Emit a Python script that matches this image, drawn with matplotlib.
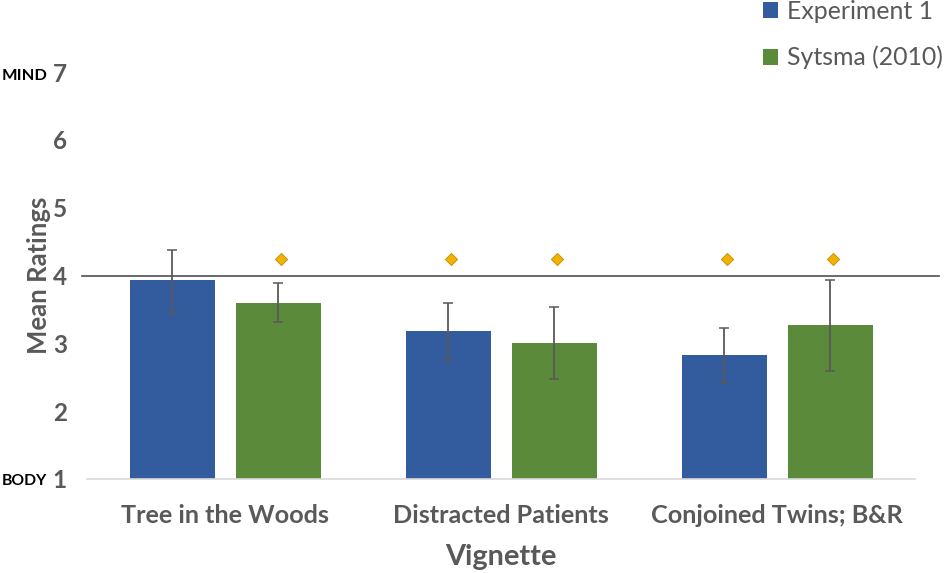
# -*- coding: utf-8 -*-
"""
Mean ratings per vignette, Experiment 1 against Sytsma (2010).
"""

import numpy as np
import matplotlib.pyplot as plt


def build_data():
    data = {
        "vignettes": ["Tree in the Woods", "Distracted Patients", "Conjoined Twins; B&R"],
        "exp_mean": [3.94, 3.18, 2.83],
        "exp_low": [3.44, 2.74, 2.41],
        "exp_high": [4.38, 3.59, 3.23],
        "sys_mean": [3.60, 3.01, 3.27],
        "sys_low": [3.31, 2.47, 2.59],
        "sys_high": [3.89, 3.54, 3.94],
    }
    return data


def visualize(data, save_path):
    """Grouped bars with error bars, reference line and markers."""
    plt.rcParams["font.family"] = ["Lato", "DejaVu Sans"]

    fig = plt.figure(figsize=(9.45, 5.73), dpi=100)
    ax = fig.add_axes([87 / 945, 94 / 573, 828 / 945, 407 / 573])

    x = np.arange(len(data["vignettes"]))
    width = 0.308
    offset = 0.192
    grey = "#595959"

    # bars
    ax.bar(x - offset, np.array(data["exp_mean"]) - 1, width, bottom=1,
           color="#335C9F", label="Experiment 1")
    ax.bar(x + offset + 0.003, np.array(data["sys_mean"]) - 1, width, bottom=1,
           color="#5A8A3A", label="Sytsma (2010)")

    # error bars
    for pos, mean, low, high in [
        (x - offset, data["exp_mean"], data["exp_low"], data["exp_high"]),
        (x + offset, data["sys_mean"], data["sys_low"], data["sys_high"]),
    ]:
        mean = np.array(mean)
        yerr = [mean - np.array(low), np.array(high) - mean]
        ax.errorbar(pos, mean, yerr=yerr, fmt="none", ecolor=grey,
                    elinewidth=1.3, capsize=3.5, capthick=1.1, zorder=4)

    # midpoint line runs past the plot area
    ax.plot([-0.518, 2.587], [4, 4], color="#505050", linewidth=1.2,
            clip_on=False, zorder=3)

    # significance markers
    marker_x = [0 + offset, 1 - offset, 1 + offset, 2 - offset, 2 + offset]
    ax.scatter(np.array(marker_x) + 0.01, [4.25] * 5, marker="D", s=38,
               color="#F0B400", edgecolors="#C98F10", linewidth=0.7, zorder=5)

    ax.set_xlim(-0.5, 2.5)
    ax.set_ylim(1, 7)
    ax.set_yticks(range(1, 8))
    ax.set_xticks(x)
    ax.set_xticklabels(data["vignettes"], fontsize=18.2, fontweight="bold", color=grey)
    ax.tick_params(axis="y", length=0, labelsize=17.5, labelcolor=grey, pad=14.5)
    ax.tick_params(axis="x", length=0, pad=18)
    for label in ax.get_yticklabels():
        label.set_fontweight("bold")

    for side in ["top", "right", "left"]:
        ax.spines[side].set_visible(False)
    ax.spines["bottom"].set_color("#D9D9D9")
    ax.spines["bottom"].set_linewidth(1.2)

    ax.set_xlabel("Vignette", fontsize=20.8, fontweight="bold", color=grey, labelpad=12)
    ax.set_ylabel("Mean Ratings", fontsize=18.5, fontweight="bold", color=grey, labelpad=1.5)

    # scale anchors
    fig.text(2 / 945, 1 - 76 / 573, "MIND", fontsize=11.8, fontweight="bold",
             color="black", va="center")
    fig.text(2 / 945, 1 - 481 / 573, "BODY", fontsize=11.3, fontweight="bold",
             color="black", va="center")

    ax.legend(loc="upper left", bbox_to_anchor=(763 / 945, 1.0), bbox_transform=fig.transFigure,
              frameon=False, fontsize=17.9, labelcolor=grey, handlelength=0.62,
              handleheight=0.62, handletextpad=0.36, labelspacing=0.92,
              borderaxespad=0, borderpad=0)

    plt.savefig(save_path, dpi=100)
    plt.close()


def main():
    """Draw the chart."""
    data = build_data()
    visualize(data, "out.png")


if __name__ == "__main__":
    main()
